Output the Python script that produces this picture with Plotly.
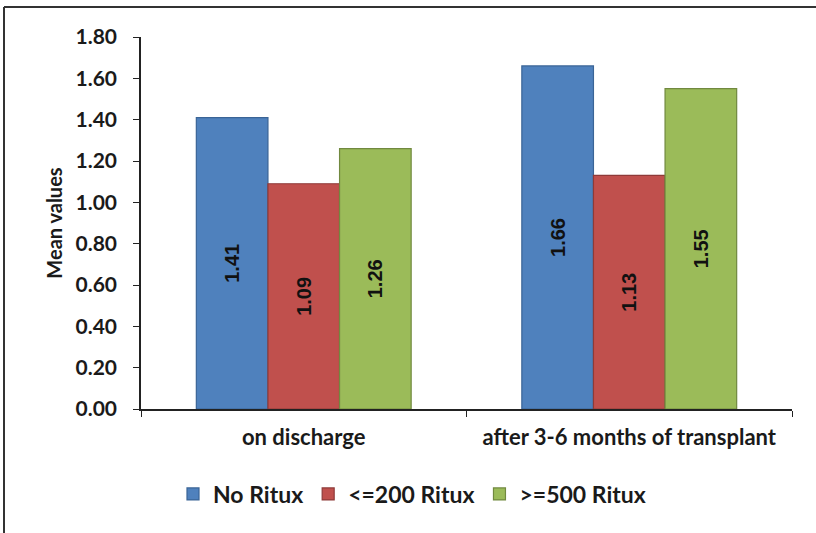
import plotly.graph_objects as go

categories = ["on discharge", "after 3-6 months of transplant"]
series_names = ["No Ritux", "<=200 Ritux", ">=500 Ritux"]
no_ritux = [1.41, 1.66]
ritux_200 = [1.09, 1.13]
ritux_500 = [1.26, 1.55]
y_ticks = [0.0, 0.2, 0.4, 0.6, 0.8, 1.0, 1.2, 1.4, 1.6, 1.8]

fills = ["#4F81BD", "#C0504D", "#9BBB59"]
edges = ["#3A6496", "#8E3A38", "#71893F"]

W, H = 816, 533
L, R, T, B = 141, 24, 37, 124
pw, ph = W - L - R, H - T - B

font_txt = "Lato, Noto Sans, Arial"
ink = "#1a1a1a"

fig = go.Figure()
for name, vals, fc, ec in zip(series_names, [no_ritux, ritux_200, ritux_500], fills, edges):
    fig.add_trace(go.Bar(
        name=name, x=categories, y=vals,
        marker=dict(color=fc, line=dict(color=ec, width=1.2)),
        text=[f"{v:.2f}" for v in vals],
        textposition="inside", insidetextanchor="middle", textangle=-90,
        textfont=dict(family="Liberation Sans, Arial", size=20, color="#111111", weight="bold"),
    ))

# outer frame of the chart
fx0 = (4 - L) / pw
fy1 = (H - B - 7) / ph
fig.add_shape(type="line", xref="paper", yref="paper", x0=fx0, x1=fx0, y0=fy1, y1=-1,
              line=dict(color="#333333", width=2))
fig.add_shape(type="line", xref="paper", yref="paper", x0=fx0, x1=1.2, y0=fy1, y1=fy1,
              line=dict(color="#333333", width=2))

fig.update_layout(
    width=W, height=H,
    margin=dict(l=L, r=R, t=T, b=B),
    paper_bgcolor="white", plot_bgcolor="white",
    barmode="group", bargap=0.34, bargroupgap=0,
    showlegend=True,
    legend=dict(orientation="h", x=(412 - L) / pw, xanchor="center",
                y=(H - B - 494) / ph, yanchor="middle",
                font=dict(family=font_txt, size=23, color=ink, weight="bold"),
                itemwidth=30, tracegroupgap=0),
    xaxis=dict(showline=True, linecolor="#222222", linewidth=1.5,
               ticks="outside", ticklen=6, tickcolor="#222222", tickson="boundaries",
               ticklabelstandoff=8,
               tickfont=dict(family=font_txt, size=22, color=ink, weight="bold"),
               showgrid=False),
    yaxis=dict(range=[0, 1.8], tickvals=y_ticks, tickformat=".2f",
               showline=True, linecolor="#222222", linewidth=1.5,
               ticks="outside", ticklen=6, tickcolor="#222222",
               ticklabelstandoff=12,
               tickfont=dict(family=font_txt, size=21, color=ink, weight="bold"),
               showgrid=False, zeroline=False,
               title=dict(text="<b>Mean values</b>", standoff=8,
                          font=dict(family=font_txt, size=20, color=ink))),
)

fig.write_html("out.html")
